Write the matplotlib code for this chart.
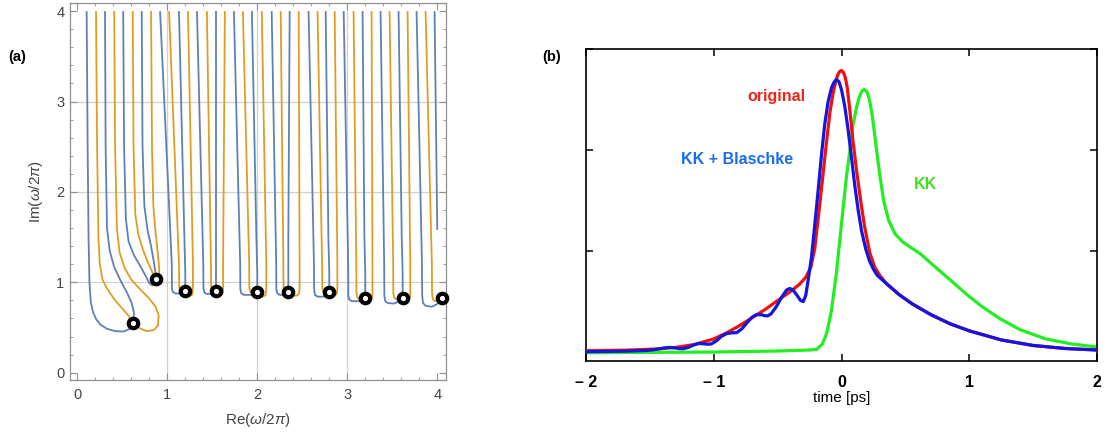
import matplotlib
matplotlib.use("Agg")
import matplotlib.pyplot as plt
from matplotlib.ticker import MultipleLocator, FixedLocator

plt.rcParams['font.family'] = ['Liberation Sans', 'DejaVu Sans']
plt.rcParams['mathtext.fontset'] = 'custom'
plt.rcParams['mathtext.rm'] = 'Liberation Sans'
plt.rcParams['mathtext.it'] = 'Liberation Sans:italic'

# ---------------- panel (a): root trajectories (Re, Im of omega/2pi) ----------------
# group 1 (loop around circle at ~0.62)
c01 = [(0.104,4.0),(0.115,2.5),(0.125,1.5),(0.135,1.0),(0.15,0.78),(0.175,0.67),(0.21,0.59),(0.26,0.53),(0.33,0.485),(0.42,0.46),(0.51,0.455),(0.575,0.48),(0.622,0.547)]
c02 = [(0.208,4.0),(0.22,2.5),(0.235,1.5),(0.25,1.2),(0.28,1.03),(0.33,0.93),(0.42,0.80),(0.50,0.71),(0.57,0.63),(0.622,0.547)]
c03 = [(0.308,4.0),(0.315,2.5),(0.33,1.6),(0.36,1.35),(0.41,1.17),(0.48,1.02),(0.55,0.89),(0.605,0.77),(0.63,0.66),(0.622,0.547)]
c04 = [(0.41,4.0),(0.42,2.5),(0.44,1.6),(0.47,1.33),(0.53,1.15),(0.60,1.03),(0.70,0.92),(0.80,0.82),(0.87,0.73),(0.905,0.63),(0.895,0.52),(0.85,0.47),(0.77,0.46),(0.70,0.49),(0.622,0.547)]
# group 2
c05 = [(0.51,4.0),(0.52,2.5),(0.54,1.7),(0.57,1.45),(0.63,1.3),(0.70,1.18),(0.76,1.07),(0.80,0.99),(0.835,0.965),(0.862,0.99),(0.878,1.037)]
c06 = [(0.616,4.0),(0.625,2.5),(0.645,1.75),(0.68,1.52),(0.73,1.36),(0.78,1.23),(0.83,1.12),(0.86,1.06),(0.878,1.037)]
c07 = [(0.716,4.0),(0.725,2.5),(0.745,1.85),(0.78,1.58),(0.82,1.40),(0.85,1.23),(0.868,1.11),(0.878,1.037)]
c08 = [(0.82,4.0),(0.83,2.5),(0.845,1.85),(0.87,1.55),(0.895,1.32),(0.91,1.15),(0.91,1.06),(0.895,1.02),(0.878,1.037)]
# group 3
c09 = [(0.92,4.0),(1.05,1.2),(1.052,0.93),(1.062,0.893),(1.09,0.876),(1.14,0.876),(1.18,0.89),(1.20,0.905)]
c10 = [(1.02,4.0),(1.13,1.2),(1.132,0.95),(1.142,0.905),(1.165,0.888),(1.19,0.895),(1.20,0.905)]
c11 = [(1.13,4.0),(1.19,1.5),(1.20,1.1),(1.20,0.905)]
c12 = [(1.23,4.0),(1.285,1.2),(1.285,0.93),(1.277,0.865),(1.25,0.846),(1.225,0.856),(1.20,0.905)]
# group 4
c13 = [(1.33,4.0),(1.40,1.2),(1.402,0.93),(1.412,0.888),(1.44,0.871),(1.48,0.871),(1.52,0.89),(1.54,0.905)]
c14 = [(1.44,4.0),(1.485,1.2),(1.487,0.95),(1.497,0.905),(1.52,0.888),(1.53,0.895),(1.54,0.905)]
c15 = [(1.54,4.0),(1.54,1.5),(1.54,1.1),(1.54,0.905)]
c16 = [(1.64,4.0),(1.62,1.2),(1.62,0.93),(1.612,0.87),(1.585,0.851),(1.565,0.861),(1.54,0.905)]
# group 5
c17 = [(1.74,4.0),(1.81,1.2),(1.812,0.92),(1.822,0.878),(1.85,0.861),(1.94,0.861),(1.98,0.88),(2.00,0.895)]
c18 = [(1.84,4.0),(1.91,1.2),(1.912,0.94),(1.922,0.895),(1.945,0.878),(1.99,0.885),(2.00,0.895)]
c19 = [(1.94,4.0),(1.99,1.5),(2.00,1.1),(2.00,0.895)]
c20 = [(2.05,4.0),(2.10,1.2),(2.10,0.92),(2.092,0.86),(2.065,0.841),(2.025,0.851),(2.00,0.895)]
# group 6
c21 = [(2.16,4.0),(2.21,1.2),(2.212,0.92),(2.222,0.878),(2.25,0.861),(2.285,0.861),(2.325,0.88),(2.345,0.895)]
c22 = [(2.26,4.0),(2.29,1.2),(2.292,0.94),(2.302,0.895),(2.325,0.878),(2.335,0.885),(2.345,0.895)]
c23 = [(2.36,4.0),(2.345,1.5),(2.345,1.1),(2.345,0.895)]
c24 = [(2.46,4.0),(2.47,1.2),(2.47,0.92),(2.462,0.87),(2.435,0.851),(2.37,0.861),(2.345,0.895)]
# group 7
c25 = [(2.57,4.0),(2.63,1.2),(2.632,0.92),(2.642,0.858),(2.67,0.841),(2.74,0.841),(2.78,0.88),(2.80,0.895)]
c26 = [(2.67,4.0),(2.72,1.2),(2.722,0.94),(2.732,0.895),(2.755,0.878),(2.79,0.885),(2.80,0.895)]
c27 = [(2.76,4.0),(2.79,1.5),(2.80,1.1),(2.80,0.895)]
c28 = [(2.86,4.0),(2.89,1.2),(2.89,0.92),(2.882,0.87),(2.855,0.851),(2.825,0.861),(2.80,0.895)]
# group 8
c29 = [(2.96,4.0),(3.01,1.2),(3.012,0.855),(3.022,0.808),(3.05,0.791),(3.14,0.791),(3.18,0.815),(3.20,0.83)]
c30 = [(3.07,4.0),(3.10,1.2),(3.102,0.875),(3.112,0.83),(3.135,0.813),(3.19,0.82),(3.20,0.83)]
c31 = [(3.17,4.0),(3.19,1.5),(3.20,1.1),(3.20,0.83)]
c32 = [(3.27,4.0),(3.28,1.2),(3.28,0.855),(3.272,0.82),(3.245,0.801),(3.225,0.811),(3.20,0.83)]
# group 9
c33 = [(3.37,4.0),(3.41,1.2),(3.412,0.855),(3.422,0.79),(3.45,0.77),(3.52,0.765),(3.58,0.79),(3.615,0.83)]
c34 = [(3.47,4.0),(3.51,1.2),(3.512,0.875),(3.522,0.83),(3.545,0.813),(3.605,0.82),(3.615,0.83)]
c35 = [(3.57,4.0),(3.605,1.5),(3.615,1.1),(3.615,0.83)]
c36 = [(3.67,4.0),(3.70,1.2),(3.70,0.855),(3.692,0.82),(3.665,0.801),(3.64,0.811),(3.615,0.83)]
# group 10
c37 = [(3.77,4.0),(3.83,1.2),(3.832,0.855),(3.842,0.77),(3.87,0.74),(3.94,0.73),(4.00,0.76),(4.05,0.83)]
c38 = [(3.87,4.0),(3.94,1.2),(3.942,0.875),(3.952,0.81),(3.98,0.79),(4.03,0.80),(4.05,0.83)]
c39 = [(3.97,4.0),(4.00,1.58)]

curves_a = [c01,c02,c03,c04,c05,c06,c07,c08,c09,c10,c11,c12,c13,c14,c15,c16,c17,c18,c19,c20,
            c21,c22,c23,c24,c25,c26,c27,c28,c29,c30,c31,c32,c33,c34,c35,c36,c37,c38,c39]

circle_re = [0.622, 0.878, 1.20, 1.54, 2.00, 2.345, 2.80, 3.20, 3.615, 4.05]
circle_im = [0.547, 1.037, 0.905, 0.905, 0.895, 0.895, 0.895, 0.83, 0.83, 0.83]

a_ticks = [0, 1, 2, 3, 4]
a_grid = [1, 2, 3]

# ---------------- panel (b): pulses ----------------
t_orig = [-2.0,-1.7,-1.45,-1.3,-1.15,-1.0,-0.9,-0.8,-0.7,-0.6,-0.5,-0.4,-0.33,-0.28,-0.24,-0.21,-0.18,-0.15,-0.12,-0.09,-0.065,
          -0.045,-0.03,-0.015,0.0,0.015,0.03,0.045,0.065,0.09,0.12,0.15,0.18,0.22,0.26,0.30,0.35,0.45,0.55,0.7,0.85,1.0,1.25,1.5,1.75,2.0]
y_orig = [0.013,0.018,0.03,0.045,0.075,0.13,0.19,0.26,0.34,0.42,0.51,0.60,0.67,0.74,0.84,1.02,1.35,1.7,2.05,2.38,2.57,
          2.68,2.745,2.78,2.79,2.77,2.72,2.62,2.40,2.09,1.78,1.5,1.25,0.99,0.84,0.76,0.68,0.57,0.48,0.37,0.28,0.21,0.12,0.065,0.035,0.02]

t_kkb = [-2.0,-1.7,-1.53,-1.47,-1.42,-1.38,-1.345,-1.31,-1.27,-1.24,-1.2,-1.16,-1.12,-1.08,-1.05,-1.02,-0.98,-0.94,-0.90,-0.86,
         -0.82,-0.78,-0.74,-0.70,-0.667,-0.63,-0.60,-0.577,-0.55,-0.51,-0.47,-0.43,-0.405,-0.38,-0.35,-0.32,-0.30,-0.28,-0.26,
         -0.235,-0.21,-0.183,-0.157,-0.131,-0.105,-0.078,-0.06,-0.04,-0.02,0.0,0.025,0.052,0.078,0.104,0.13,0.157,0.19,0.22,0.25,0.28,0.35,
         0.45,0.55,0.7,0.85,1.0,1.25,1.5,1.75,2.0]
y_kkb = [0.003,0.008,0.015,0.022,0.033,0.042,0.046,0.042,0.034,0.033,0.045,0.068,0.084,0.082,0.077,0.08,0.11,0.155,0.182,0.19,
         0.192,0.23,0.29,0.345,0.37,0.37,0.36,0.358,0.38,0.45,0.54,0.615,0.63,0.615,0.565,0.51,0.50,0.56,0.72,
         0.94,1.25,1.6,1.95,2.26,2.48,2.62,2.67,2.70,2.68,2.60,2.44,2.2,1.93,1.65,1.41,1.2,1.02,0.9,0.82,0.76,0.68,
         0.57,0.48,0.37,0.28,0.21,0.12,0.065,0.035,0.02]

t_kk = [-2.0,-1.0,-0.5,-0.25,-0.196,-0.15,-0.117,-0.08,-0.04,-0.01,0.013,0.04,0.065,0.09,0.117,0.135,0.15,0.165,0.18,0.195,0.21,
        0.225,0.24,0.27,0.30,0.33,0.37,0.42,0.48,0.55,0.62,0.7,0.8,0.9,1.0,1.1,1.24,1.4,1.6,1.8,2.0]
y_kk = [-0.007,0.0,0.01,0.02,0.025,0.08,0.18,0.4,0.78,1.15,1.43,1.75,1.99,2.25,2.42,2.51,2.56,2.595,2.60,2.585,2.54,
        2.46,2.35,2.05,1.75,1.5,1.3,1.17,1.09,1.03,0.97,0.88,0.77,0.66,0.55,0.45,0.33,0.22,0.13,0.08,0.05]

b_xticks = [-2, -1, 0, 1, 2]
b_xticklabels = ['\u2013 2', '\u2013 1', '0', '1', '2']
b_yticks = [1, 2, 3]

# ================= drawing =================
W, H = 1114, 436
fig = plt.figure(figsize=(W/100, H/100), dpi=100)

BLUE = '#5E81B5'
ORANGE = '#E19C24'
frame_col = '#8f8f8f'
lab_col = '#444444'

axa = fig.add_axes([70/W, 1-380/H, 376/W, 376.7/H])
for g in a_grid:
    axa.axvline(g, color='#d0d0d0', lw=0.9, zorder=0)
    axa.axhline(g, color='#d0d0d0', lw=0.9, zorder=0)
for i, c in enumerate(curves_a):
    xs = [p[0] for p in c]
    ys = [p[1] for p in c]
    axa.plot(xs, ys, color=BLUE if i % 2 == 0 else ORANGE, lw=1.3, solid_capstyle='butt', zorder=2)
axa.plot(circle_re, circle_im, linestyle='none', marker='o', ms=6.8, mfc='white', mec='black', mew=3.0, zorder=5, clip_on=False)
axa.set_xlim(-0.081, 4.097)
axa.set_ylim(-0.081, 4.087)
axa.xaxis.set_major_locator(FixedLocator(a_ticks))
axa.yaxis.set_major_locator(FixedLocator(a_ticks))
axa.xaxis.set_minor_locator(MultipleLocator(0.2))
axa.yaxis.set_minor_locator(MultipleLocator(0.2))
axa.tick_params(which='both', direction='in', top=True, right=True, color=frame_col, labelcolor=lab_col, labelsize=10.5)
axa.tick_params(which='major', length=5, width=0.8)
axa.tick_params(which='minor', length=2.5, width=0.6)
axa.tick_params(axis='x', pad=6)
axa.tick_params(axis='y', pad=4)
for s in axa.spines.values():
    s.set_color(frame_col)
    s.set_linewidth(0.9)
axa.set_xlabel(r'Re($\mathit{\omega}$/2$\mathit{\pi}$)', fontsize=11, color=lab_col, labelpad=6)
axa.set_ylabel(r'Im($\mathit{\omega}$/2$\mathit{\pi}$)', fontsize=11, color=lab_col, labelpad=8)

fig.text(17/W, 1-57/H, '(a)', fontsize=10.5, fontweight='bold', ha='center', va='center')
fig.text(552/W, 1-57/H, '(b)', fontsize=10.5, fontweight='bold', ha='center', va='center')

axb = fig.add_axes([586/W, 1-360.7/H, 511/W, 311.4/H])
axb.plot(t_kk, y_kk, color='#22ee22', lw=2.3, zorder=2)
axb.plot(t_orig, y_orig, color='#ee1111', lw=2.3, zorder=3)
axb.plot(t_kkb, y_kkb, color='#1515dd', lw=2.3, zorder=4)
axb.set_xlim(-2, 2)
axb.set_ylim(-0.086, 3.0)
axb.set_xticks(b_xticks)
axb.set_xticklabels(b_xticklabels, fontweight='bold')
axb.set_yticks(b_yticks)
axb.set_yticklabels([])
axb.tick_params(which='both', direction='in', top=True, right=True, length=5, width=1.1, labelsize=11.5, pad=10)
for s in axb.spines.values():
    s.set_linewidth(1.2)
axb.set_xlabel('time [ps]', fontsize=11, labelpad=1)
axb.text(-0.507, 2.53, 'original', color='#e8281e', fontsize=11.5, fontweight='bold', ha='center', va='center')
axb.text(-0.82, 1.91, 'KK + Blaschke', color='#1a6ee8', fontsize=11.5, fontweight='bold', ha='center', va='center')
axb.text(0.66, 1.66, 'KK', color='#44dd22', fontsize=11.5, fontweight='bold', ha='center', va='center')

fig.savefig('out.png', dpi=100)
